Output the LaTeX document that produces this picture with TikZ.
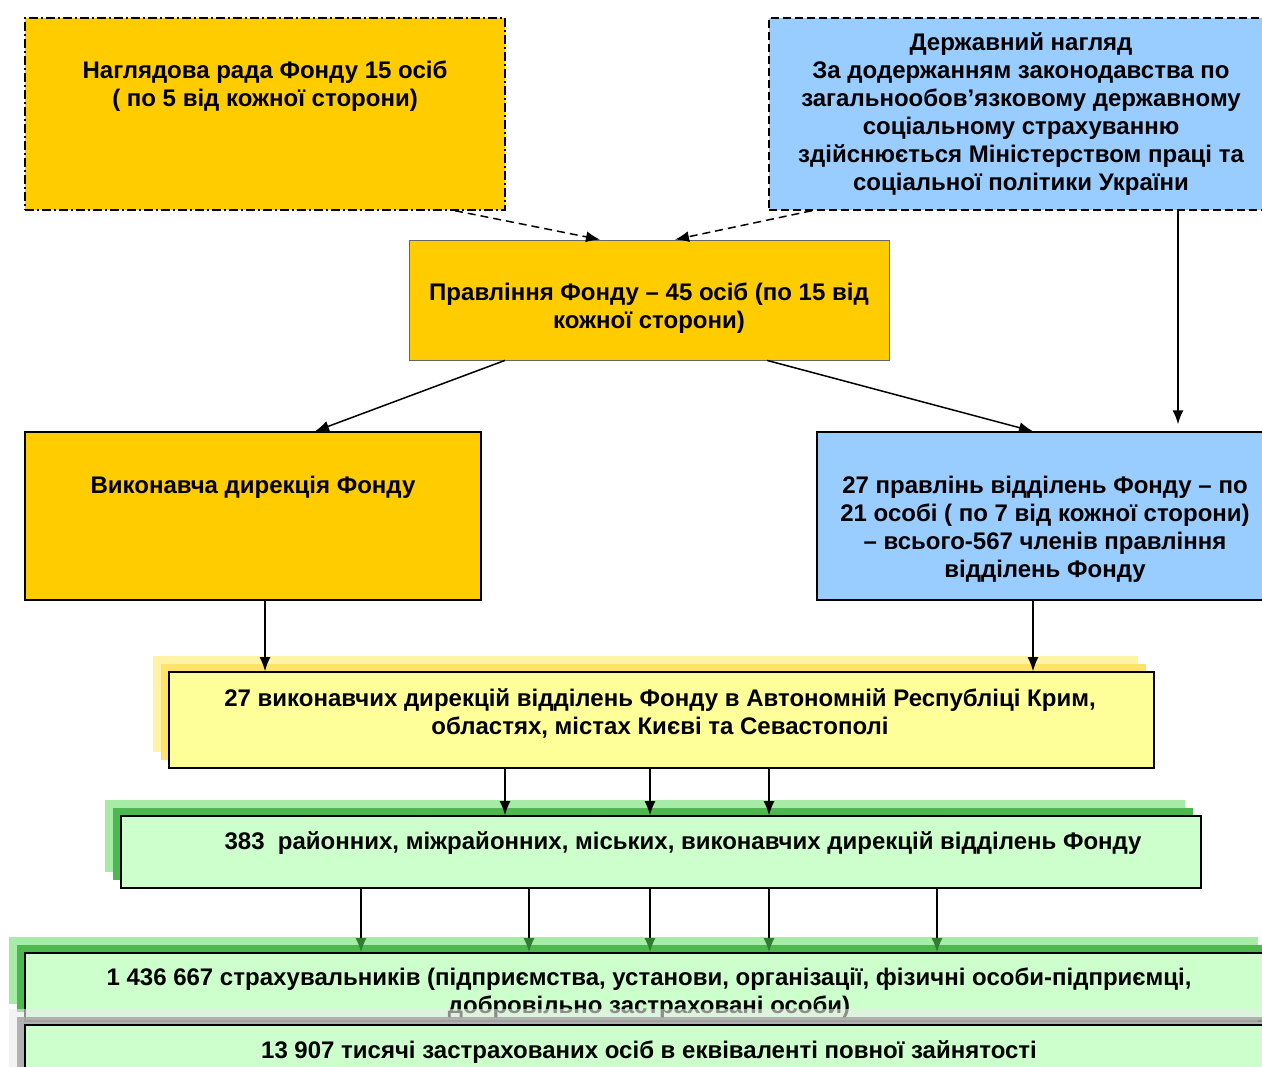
\documentclass[tikz,border=0pt]{standalone}
\usepackage{fontspec}
\setmainfont{Liberation Sans}
\usetikzlibrary{arrows.meta,calc}
\definecolor{orng}{HTML}{FFCC00}
\definecolor{lblue}{HTML}{99CCFF}
\definecolor{lyel}{HTML}{FFFF99}
\definecolor{lgrn}{HTML}{CCFFCC}
\definecolor{yshA}{HTML}{FFF4A6}
\definecolor{yshB}{HTML}{FFE26A}
\definecolor{gshA}{HTML}{A6EBA6}
\definecolor{gshB}{HTML}{4DB84D}
\definecolor{gdark}{HTML}{2E7D32}
\begin{document}
\begin{tikzpicture}[x=1pt,y=-1pt,
  box/.style={draw=black, line width=1.6pt, inner sep=0pt},
  txt/.style={font=\bfseries\fontsize{24}{28}\selectfont, align=center, inner sep=0pt},
  arr/.style={-{Latex[length=14pt,width=11pt]}, line width=1.5pt},
  garr/.style={-{Latex[length=14pt,width=11pt,color=gdark]}, line width=1.5pt},
  darr/.style={arr, dash pattern=on 8pt off 5pt}]
\clip (0,0) rectangle (1262,1067);
\fill[white] (0,0) rectangle (1262,1067);

% top boxes
\node[box, fill=orng, line width=1.4pt, dash pattern=on 9pt off 3pt on 2pt off 3pt,
  minimum width=480pt, minimum height=192pt] (nag) at (265,114) {};
\node[txt] (nagt) at (265,86) {Наглядова рада Фонду 15 осіб\\( по 5 від кожної сторони)};

\node[box, fill=lblue, line width=1.4pt, dash pattern=on 8pt off 4pt,
  minimum width=497pt, minimum height=192pt] (der) at (1017.5,114) {};
\node[txt] (dert) at (1021,114) {Державний нагляд\\За додержанням законодавства по\\загальнообов’язковому державному\\соціальному страхуванню\\здійснюється Міністерством праці та\\соціальної політики України};

\node[box, fill=orng, draw=black!60, line width=0.8pt,
  minimum width=480pt, minimum height=120pt] (pr) at (649,300) {};
\node[txt] (prt) at (649,308) {Правління Фонду – 45 осіб (по 15 від\\кожної сторони)};

\node[box, fill=orng, line width=1.4pt, minimum width=456pt, minimum height=168pt] (vyk) at (253,516) {};
\node[txt] (vykt) at (253,487) {Виконавча дирекція Фонду};

\node[box, fill=lblue, line width=1.4pt, minimum width=449pt, minimum height=168pt] (p27) at (1041.5,516) {};
\node[txt] (p27t) at (1045,529) {27 правлінь відділень Фонду – по\\21 особі ( по 7 від кожної сторони)\\– всього-567 членів правління\\відділень Фонду};

% arrows between top boxes
\draw[darr] ([xshift=190pt]nag.south) -- ([xshift=-49pt]pr.north);
\draw[darr] ([xshift=-205.5pt]der.south) -- ([xshift=26pt]pr.north);
\draw[arr, shorten >=7pt] ([xshift=160.5pt]der.south) -- ([xshift=136.5pt]p27.north);
\draw[arr] ([xshift=-144pt]pr.south) -- ([xshift=62pt]vyk.north);
\draw[arr] ([xshift=118pt]pr.south) -- ([xshift=-8.5pt]p27.north);

% yellow box
\fill[yshA] (153,656) rectangle (1138,752);
\fill[yshB] (161,664) rectangle (1146,760);
\node[box, fill=lyel, minimum width=985pt, minimum height=96pt] (yel) at (661.5,720) {};
\node[txt] (yelt) at (660,713) {27 виконавчих дирекцій відділень Фонду в Автономній Республіці Крим,\\областях, містах Києві та Севастополі};
\draw[arr] ([xshift=12pt]vyk.south) coordinate (a1) -- (a1 |- yel.north);
\draw[arr] ([xshift=-8.5pt]p27.south) coordinate (a2) -- (a2 |- yel.north);

% green box
\fill[gshA] (105,800) rectangle (1185,872);
\fill[gshB] (113,808) rectangle (1193,880);
\node[box, fill=lgrn, minimum width=1080pt, minimum height=72pt] (grn) at (661,852) {};
\node[txt] (grnt) at (683,843) {383~ районних, міжрайонних, міських, виконавчих дирекцій відділень Фонду};
\foreach \s/\n in {-156.5/b1,-11.5/b2,107.5/b3}{
  \draw[arr] ([xshift=\s pt]yel.south) coordinate (\n) -- (\n |- grn.north);
}

% bottom boxes
\fill[gshA] (9,937) rectangle (1258,1004);
\fill[gshB] (17,945) rectangle (1266,1012);
\node[box, fill=lgrn, minimum width=1241pt, minimum height=68pt] (st) at (645.5,987) {};
\node[txt] (stt) at (649,993) {1 436 667 страхувальників (підприємства, установи, організації, фізичні особи-підприємці,\\добровільно застраховані особи)};
\foreach \s/\n in {-300/c1,-132/c2,-11/c3,108/c4,276/c5}{
  \draw[garr] ([xshift=\s pt]grn.south) coordinate (\n) -- (\n |- st.north);
}

\fill[white!92!black, opacity=0.6] (9,1009) rectangle (1258,1080);
\fill[black!35, opacity=0.85] (17,1017) rectangle (1266,1080);
\node[box, fill=lgrn, minimum width=1241pt, minimum height=60pt] (zo) at (645.5,1055) {};
\node[txt] (zot) at (649,1052) {13 907 тисячі застрахованих осіб в еквіваленті повної зайнятості};
\end{tikzpicture}
\end{document}
